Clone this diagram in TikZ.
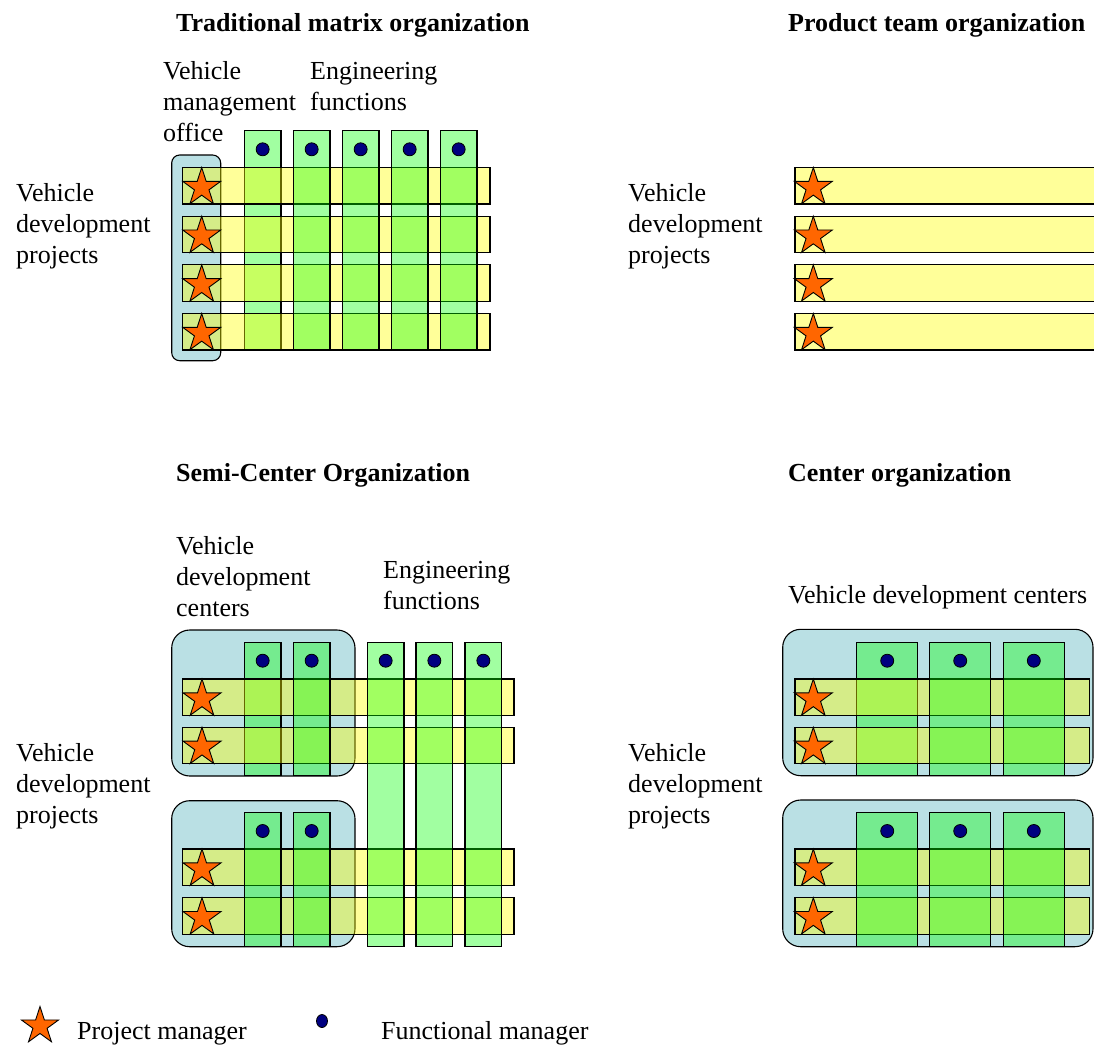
\documentclass[tikz,border=0pt]{standalone}
\usepackage{fontspec}
\setmainfont{Liberation Serif}
\usetikzlibrary{shapes.geometric}
\definecolor{hubblue}{RGB}{186,224,228}
\definecolor{pmorange}{RGB}{255,102,0}
\definecolor{fmnavy}{RGB}{0,0,128}
\definecolor{colgreen}{RGB}{0,255,0}
\definecolor{rowyellow}{RGB}{255,255,0}
\tikzset{
  rowbar/.style={draw=black, line width=1.1pt, fill=rowyellow, fill opacity=0.4},
  colbar/.style={draw=black, line width=1.1pt, fill=colgreen, fill opacity=0.37},
  hub/.style={draw=black, line width=1.1pt, fill=hubblue, rounded corners=#1},
  hub/.default=18pt,
  pm/.style={star, star points=5, star point ratio=2.618, minimum size=40pt,
    inner sep=0pt, draw=black, line width=0.9pt, fill=pmorange},
  fm/.style={circle, minimum size=13pt, inner sep=0pt, draw=black,
    line width=0.8pt, fill=fmnavy},
  % base anchor of a multi-line label sits on its last line
  lbl/.style={anchor=base west, inner sep=0pt, align=left,
    font=\fontsize{26}{31}\selectfont},
  ttl/.style={anchor=base west, inner sep=0pt,
    font=\fontsize{26}{31}\selectfont\bfseries},
}
\begin{document}
\begin{tikzpicture}[x=1pt, y=-1pt]
\useasboundingbox (0,0) rectangle (1094,1045);

% ---------------- Traditional matrix organization ----------------
\node[ttl] (t1) at (176,31) {Traditional matrix organization};
\node[lbl] (vmo) at (163,141) {Vehicle\\management\\office};
\node[lbl] (ef1) at (310,110) {Engineering\\functions};
\node[lbl] (vdp1) at (16,263) {Vehicle\\development\\projects};
\draw[hub=8pt] (171.7,155) rectangle (220.7,360.7);
\draw[colbar] (244.3,130.7) rectangle ++(36.7,219.3);
\foreach \i in {0,...,3}
  \draw[rowbar] (182.7,167.5+48.67*\i) rectangle ++(307.3,36.5);
\foreach \j in {1,...,4}
  \draw[colbar] (244.3+49*\j,130.7) rectangle ++(36.7,219.3);
\foreach \i in {0,...,3}
  \node[pm] (pma\i) at (201.7,187.5+48.67*\i) {};
\foreach \j in {0,...,4}
  \node[fm] (fma\j) at (262.65+49*\j,149.3) {};

% ---------------- Product team organization ----------------
\node[ttl] (t2) at (788,31) {Product team organization};
\node[lbl] (vdp2) at (628,263) {Vehicle\\development\\projects};
\foreach \i in {0,...,3} {
  \draw[rowbar] (795,167.5+48.67*\i) rectangle ++(310,36.5);
  \node[pm] (pmb\i) at (813.3,187.5+48.67*\i) {};
}

% ---------------- Semi-Center Organization ----------------
\node[ttl] (t3) at (176,481) {Semi-Center Organization};
\node[lbl] (vdc3) at (176,616) {Vehicle\\development\\centers};
\node[lbl] (ef3) at (383,609) {Engineering\\functions};
\node[lbl] (vdp3) at (16,823) {Vehicle\\development\\projects};
\draw[hub] (171.7,630) rectangle (355,776);
\draw[hub] (171.7,800.7) rectangle (355,946.7);
\draw[colbar] (244.3,642.3) rectangle ++(36.7,133.4);
\foreach \y in {679,727.3,849,897.7}
  \draw[rowbar] (182.7,\y) rectangle ++(331.3,36.5);
\draw[colbar] (293.3,642.3) rectangle ++(36.7,133.4);
\foreach \x in {244.3,293.3}
  \draw[colbar] (\x,812.7) rectangle ++(36.7,134);
\foreach \x in {367.3,416,465}
  \draw[colbar] (\x,642.3) rectangle ++(36.7,304.4);
\foreach \y [count=\k] in {679,727.3,849,897.7}
  \node[pm] (pmc\k) at (202,\y+20) {};
\foreach \x [count=\k] in {262.65,311.65,385.65,434.35,483.35}
  \node[fm] (fmc\k) at (\x,660.7) {};
\foreach \x [count=\k] in {262.65,311.65}
  \node[fm] (fmd\k) at (\x,831) {};

% ---------------- Center organization ----------------
\node[ttl] (t4) at (788,481) {Center organization};
\node[lbl] (vdc4) at (788,603) {Vehicle development centers};
\node[lbl] (vdp4) at (628,823) {Vehicle\\development\\projects};
\draw[hub] (782.7,629.3) rectangle (1093,775.7);
\draw[hub] (782.7,800) rectangle (1093,946.7);
\draw[colbar] (856.7,642.3) rectangle ++(61,133.4);
\foreach \y in {679,727.3,849,897.7}
  \draw[rowbar] (795,\y) rectangle (1089.3,\y+36.5);
\foreach \x in {929.7,1003.3}
  \draw[colbar] (\x,642.3) rectangle ++(61,133.4);
\foreach \x in {856.7,929.7,1003.3}
  \draw[colbar] (\x,812.7) rectangle ++(61,134);
\foreach \y [count=\k] in {679,727.3,849,897.7}
  \node[pm] (pmd\k) at (813.3,\y+20) {};
\foreach \x [count=\k] in {887.2,960.2,1033.8} {
  \node[fm] (fme\k) at (\x,660.7) {};
  \node[fm] (fmf\k) at (\x,831) {};
}

% ---------------- Legend ----------------
\node[pm, minimum size=39pt] (legpm) at (40,1026) {};
\node[lbl] (legpmtxt) at (77,1039) {Project manager};
\node[fm, minimum width=11pt, minimum height=13pt, ellipse] (legfm) at (322,1021) {};
\node[lbl] (legfmtxt) at (381,1039) {Functional manager};
\end{tikzpicture}
\end{document}
